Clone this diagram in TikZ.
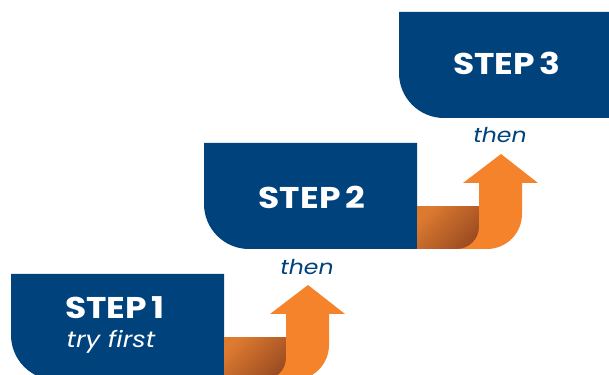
\documentclass[tikz,border=0pt]{standalone}
\usepackage{fontspec}
\setmainfont{Poppins}
\newfontfamily\stepfont{Poppins}[UprightFont=* Bold, FakeStretch=1.15]
\newfontfamily\thenfont{Poppins}[UprightFont=* Italic, FakeStretch=1.15]
\definecolor{navy}{HTML}{00427B}
\definecolor{arroworange}{HTML}{F5832C}
\definecolor{brownlight}{HTML}{DC7A30}
\definecolor{browndark}{HTML}{9C4C22}
\tikzset{
  boxfill/.style={fill=navy},
  arrowfill/.style={fill=arroworange},
  bandshade/.style={top color=brownlight, bottom color=browndark, shading angle=45},
  steptext/.style={text=white, font=\stepfont\fontsize{30}{32}\selectfont, inner sep=0pt},
  subtext/.style={text=white, font=\thenfont\fontsize{22.5}{24}\selectfont, inner sep=0pt},
  thentext/.style={text=navy, font=\thenfont\fontsize{20.5}{22}\selectfont, inner sep=0pt},
  pics/stepbox/.style={code={
    \fill[boxfill] (0,0) -- (213,0) -- (213,-106) -- (45,-106)
      arc[start angle=270, end angle=180, radius=45] -- cycle;
  }},
  pics/elbowarrow/.style={code={
    \shade[bandshade] (213,-64) rectangle (275,-106);
    \fill[arrowfill] (297,-11) -- (334,-40) -- (318,-40) -- (318,-71)
      arc[start angle=0, end angle=-90, radius=35] -- (253,-106)
      arc[start angle=270, end angle=360, radius=22] -- (275,-40)
      -- (259,-40) -- cycle;
  }}
}
\begin{document}
\begin{tikzpicture}[x=1pt, y=1pt]
\useasboundingbox (0,0) rectangle (609,374);
\clip (0,0) rectangle (609,374);
% step 1
\pic at (11,100) {stepbox};
\pic at (11,100) {elbowarrow};
% step 2
\pic at (204,231) {stepbox};
\pic at (204,231) {elbowarrow};
% step 3
\pic at (399,362) {stepbox};
% texts
\node[steptext] (s1) at (115,66) {STEP\,1};
\node[subtext] (t1) at (111,32) {try first};
\node[steptext] (s2) at (312,177) {STEP\,2};
\node[steptext] (s3) at (507,311) {STEP\,3};
\node[thentext] (n1) at (307,107) {then};
\node[thentext] (n2) at (500,239) {then};
\end{tikzpicture}
\end{document}
